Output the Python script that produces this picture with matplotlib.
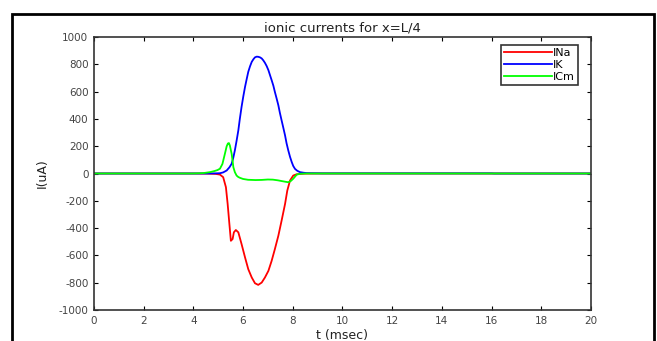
import numpy as np
import matplotlib
matplotlib.use('Agg')
import matplotlib.pyplot as plt
from matplotlib.patches import Rectangle

plt.rcParams['font.family'] = ['DejaVu Sans']
plt.rcParams['axes.unicode_minus'] = False

# values (t in msec, currents in uA)
t_na = [0, 2, 4, 4.6, 4.9, 5.07, 5.2, 5.31, 5.38, 5.45, 5.51, 5.58, 5.63, 5.71, 5.81,
        5.94, 6.08, 6.21, 6.35, 6.48, 6.61, 6.75, 6.88, 7.02, 7.15, 7.28, 7.42, 7.55,
        7.69, 7.78, 7.89, 8.02, 8.15, 8.29, 8.5, 9, 10, 12, 16, 20]
i_na = [0, 0, 0, -1, -3, -8, -27, -100, -223, -370, -493, -480, -431, -414, -431,
        -517, -615, -701, -762, -804, -816, -799, -762, -713, -640, -554, -456, -346,
        -223, -125, -51, -15, -6, -3, -1, 0, 0, 0, 0, 0]

t_k = [0, 2, 4, 4.6, 4.9, 5.07, 5.2, 5.34, 5.45, 5.54, 5.6, 5.67, 5.74, 5.81, 5.87,
       5.94, 6.01, 6.08, 6.15, 6.21, 6.28, 6.35, 6.42, 6.48, 6.55, 6.61, 6.68, 6.75,
       6.81, 6.88, 6.95, 7.02, 7.08, 7.15, 7.22, 7.28, 7.35, 7.42, 7.48, 7.55, 7.62,
       7.69, 7.75, 7.82, 7.89, 7.96, 8.02, 8.09, 8.18, 8.29, 8.42, 8.56, 8.8, 9.2,
       10, 12, 16, 16.1, 20]
i_k = [0, 0, 0, 0, 1, 2, 8, 22, 45, 71, 110, 169, 240, 316, 400,
       488, 565, 635, 695, 745, 785, 818, 838, 851, 856, 855, 851, 843,
       830, 811, 787, 757, 723, 684, 643, 598, 550, 500, 446, 390, 335,
       279, 222, 169, 122, 83, 55, 34, 20, 10, 6, 3, 2, 1,
       1, 1, 1, 0, 0]

t_cm = [0, 2, 4, 4.4, 4.67, 4.85, 4.97, 5.07, 5.17, 5.27, 5.34, 5.39, 5.43, 5.47,
        5.51, 5.54, 5.58, 5.61, 5.67, 5.74, 5.81, 5.88, 6.0, 6.2, 6.5, 6.75, 7.0,
        7.2, 7.4, 7.6, 7.72, 7.82, 7.92, 8.02, 8.16, 8.3, 8.5, 9, 10, 12, 16, 20]
i_cm = [0, 0, 0, 3, 10, 18, 25, 35, 70, 145, 199, 220, 223, 205,
        170, 145, 90, 46, 10, -15, -26, -32, -40, -46, -48, -47, -44,
        -45, -50, -57, -61, -64, -55, -38, -8, -2, 0, 0, 0, 0, 0, 0]

x_ticks = np.arange(0, 21, 2)
y_ticks = np.arange(-1000, 1001, 200)

fig = plt.figure(figsize=(6.57, 3.41), dpi=100)
ax = fig.add_axes([0.143, 0.0909, 0.7565, 0.8006])

ax.plot(t_na, i_na, color='#ff0000', lw=1.3, label='INa')
ax.plot(t_k, i_k, color='#0000ff', lw=1.3, label='IK')
ax.plot(t_cm, i_cm, color='#00ff00', lw=1.3, label='ICm')

ax.set_xlim(0, 20)
ax.set_ylim(-1000, 1000)
ax.set_xticks(x_ticks)
ax.set_yticks(y_ticks)
ax.tick_params(direction='in', top=True, right=True, length=3, labelsize=7.5,
               labelcolor='#444444', pad=4)
for s in ax.spines.values():
    s.set_linewidth(1.2)
    s.set_color('#333333')

ax.set_title('ionic currents for x=L/4', fontsize=9.5, color='#222222', pad=4)
ax.set_xlabel('t (msec)', fontsize=9, color='#222222', labelpad=2.5)
ax.set_ylabel('I(uA)', fontsize=9, color='#222222', labelpad=7)

leg = ax.legend(loc='upper right', bbox_to_anchor=(578 / 657, 1 - 45 / 341),
                bbox_transform=fig.transFigure, fontsize=8, fancybox=False,
                framealpha=1, edgecolor='#333333', handlelength=4.3,
                handletextpad=0.15, borderpad=0.25, labelspacing=0.2,
                borderaxespad=0)
leg.get_frame().set_linewidth(1.2)

# black frame around the figure
fig.patches.append(Rectangle((12 / 657, -0.05), 642 / 657, 1 - 14 / 341 + 0.05,
                             transform=fig.transFigure, fill=False,
                             edgecolor='black', lw=2))

fig.savefig('out.png', dpi=100)
